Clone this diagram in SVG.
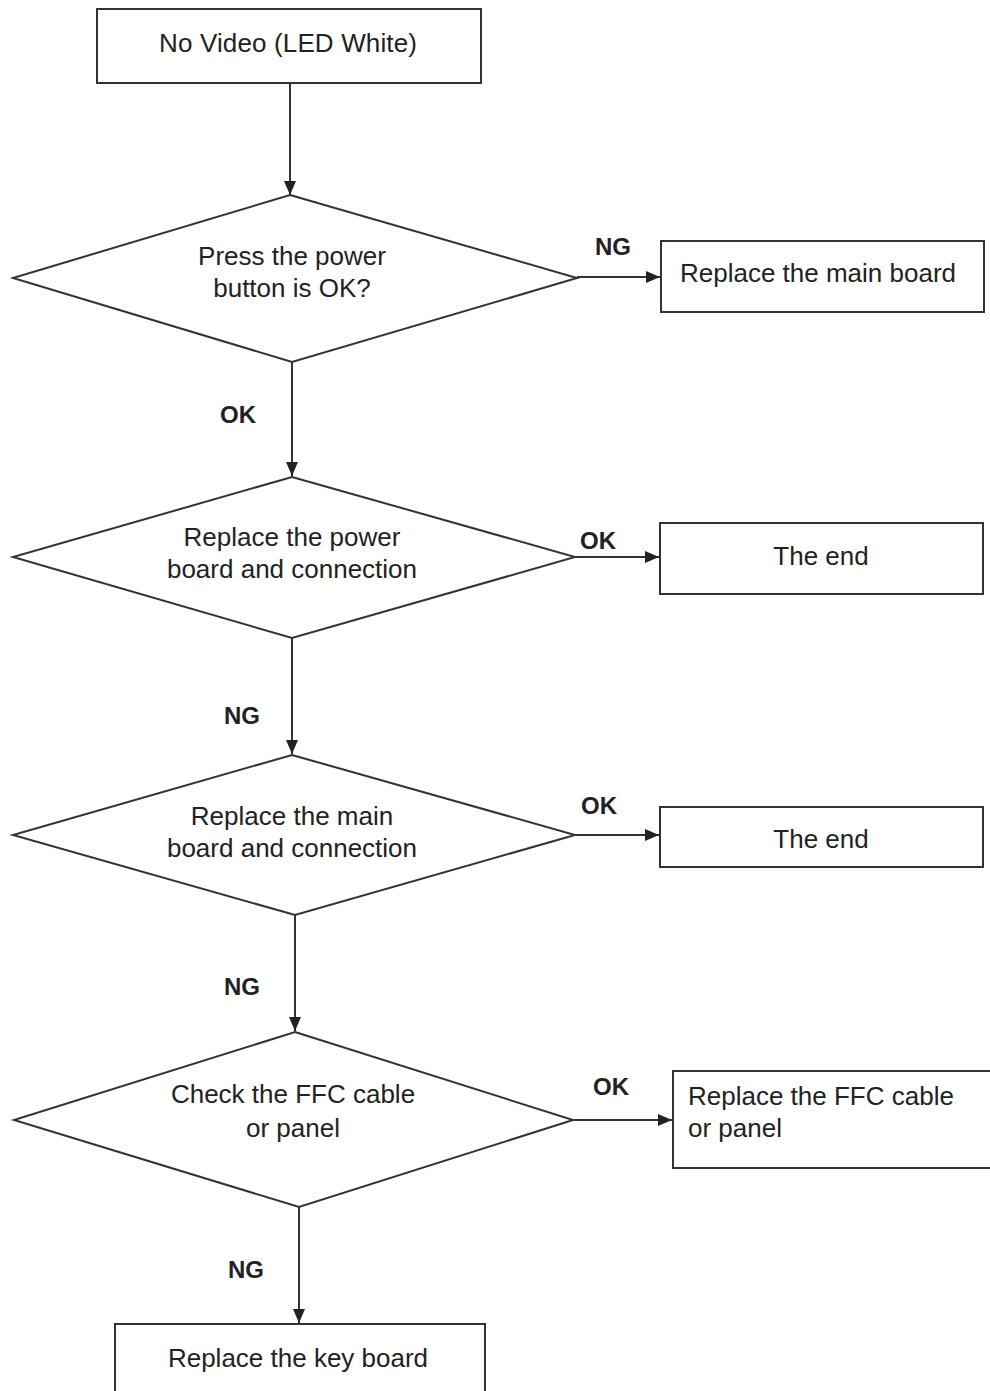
<svg xmlns="http://www.w3.org/2000/svg" width="990" height="1391" viewBox="0 0 990 1391">
<style>
.shape{fill:#fff;stroke:#333;stroke-width:2}
.t{font-family:"Liberation Sans",Arial,sans-serif;font-size:26px;fill:#222}
.c{text-anchor:middle}
.lbl{font-family:"Liberation Sans",Arial,sans-serif;font-size:24px;font-weight:bold;fill:#222}
.conn{fill:none;stroke:#333;stroke-width:2;marker-end:url(#ah)}
</style>
<defs>
<marker id="ah" markerUnits="userSpaceOnUse" markerWidth="15" markerHeight="13" refX="14" refY="6" orient="auto">
<path d="M0,0 L14,6 L0,12 z" fill="#222"/>
</marker>
</defs>
<rect width="990" height="1391" fill="#fff"/>
<g id="connectors">
<line class="conn" x1="290" y1="83" x2="290" y2="195"/>
<line class="conn" x1="577" y1="277" x2="660" y2="277"/>
<line class="conn" x1="292" y1="362" x2="292" y2="476"/>
<line class="conn" x1="575" y1="557" x2="659" y2="557"/>
<line class="conn" x1="292" y1="638" x2="292" y2="754"/>
<line class="conn" x1="575" y1="835" x2="659" y2="835"/>
<line class="conn" x1="295" y1="915" x2="295" y2="1031"/>
<line class="conn" x1="573" y1="1120" x2="672" y2="1120"/>
<line class="conn" x1="299" y1="1207" x2="299" y2="1323"/>
<text class="lbl" x="595" y="255">NG</text>
<text class="lbl" x="220" y="423">OK</text>
<text class="lbl" x="580" y="549">OK</text>
<text class="lbl" x="224" y="724">NG</text>
<text class="lbl" x="581" y="814">OK</text>
<text class="lbl" x="224" y="995">NG</text>
<text class="lbl" x="593" y="1095">OK</text>
<text class="lbl" x="228" y="1278">NG</text>
</g>
<g id="start">
<rect class="shape" x="97" y="9" width="384" height="74"/>
<text class="t c" x="288" y="52" textLength="258" lengthAdjust="spacing">No Video (LED White)</text>
</g>
<g id="d1">
<polygon class="shape" points="290,195 577,278 292,362 13,278"/>
<text class="t c" x="292" y="265">Press the power</text>
<text class="t c" x="292" y="297">button is OK?</text>
</g>
<g id="r1">
<rect class="shape" x="661" y="241" width="323" height="71"/>
<text class="t c" x="818" y="282">Replace the main board</text>
</g>
<g id="d2">
<polygon class="shape" points="292,477 575,557 292,638 13,557"/>
<text class="t c" x="292" y="546">Replace the power</text>
<text class="t c" x="292" y="578">board and connection</text>
</g>
<g id="end1">
<rect class="shape" x="660" y="523" width="323" height="71"/>
<text class="t c" x="821" y="565">The end</text>
</g>
<g id="d3">
<polygon class="shape" points="292,755 575,835 295,915 13,835"/>
<text class="t c" x="292" y="825">Replace the main</text>
<text class="t c" x="292" y="857">board and connection</text>
</g>
<g id="end2">
<rect class="shape" x="660" y="807" width="323" height="60"/>
<text class="t c" x="821" y="848">The end</text>
</g>
<g id="d4">
<polygon class="shape" points="295,1032 573,1120 299,1207 14,1120"/>
<text class="t c" x="293" y="1103">Check the FFC cable</text>
<text class="t c" x="293" y="1137">or panel</text>
</g>
<g id="ffc">
<rect class="shape" x="673" y="1071" width="330" height="97"/>
<text class="t" x="688" y="1105">Replace the FFC cable</text>
<text class="t" x="688" y="1137">or panel</text>
</g>
<g id="keyboard">
<rect class="shape" x="115" y="1324" width="370" height="80"/>
<text class="t c" x="298" y="1367">Replace the key board</text>
</g>
</svg>
